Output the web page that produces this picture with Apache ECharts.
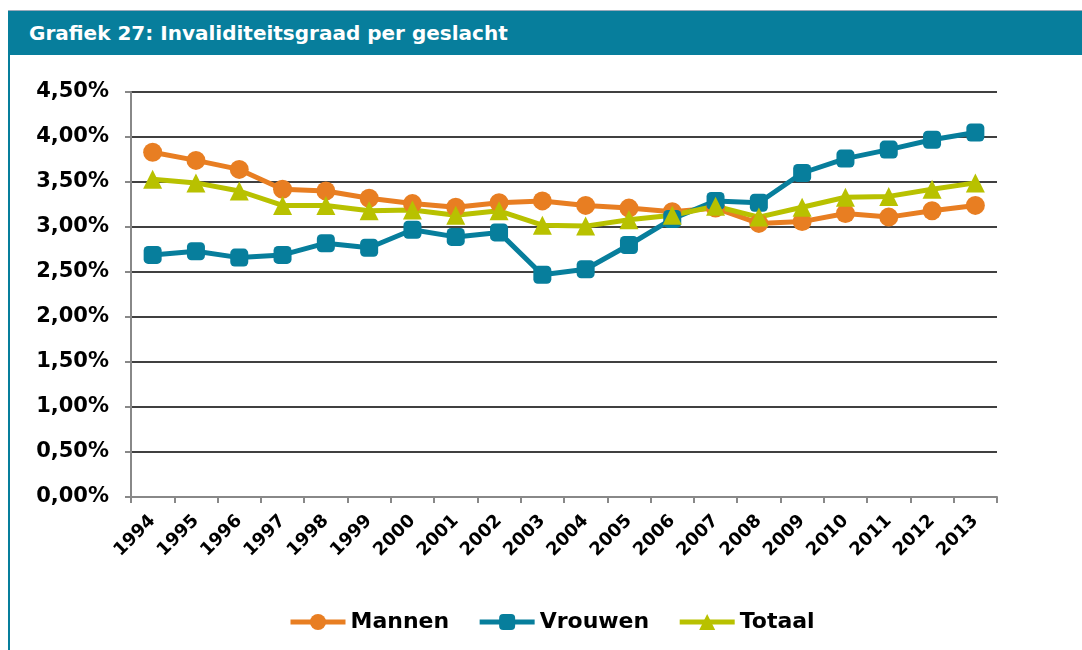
<!DOCTYPE html>
<html>
<head>
<meta charset="UTF-8">
<title>Grafiek 27</title>
<style>
body { margin: 0; background: #fff; }
#wrap { position: relative; width: 1082px; height: 650px; overflow: hidden; }
#bar {
	position: absolute; left: 8px; top: 10px; width: 1074px; height: 45px;
	background: #077e9c; border-top: 1px solid #9ab;
	color: #fff; font: bold 20px "DejaVu Sans", sans-serif;
	line-height: 44px; box-sizing: border-box; padding-left: 21px;
}
#edge { position: absolute; left: 8px; top: 10px; width: 2px; height: 640px; background: #077e9c; }
#main { position: absolute; left: 0; top: 0; width: 1082px; height: 650px; }
</style>
</head>
<body>
<div id="wrap">
	<div id="main"></div>
	<div id="edge"></div>
	<div id="bar">Grafiek 27: Invaliditeitsgraad per geslacht</div>
</div>
<script src="https://cdn.jsdelivr.net/npm/echarts@6/dist/echarts.min.js"></script>
<script>
var years = ['1994','1995','1996','1997','1998','1999','2000','2001','2002','2003',
	'2004','2005','2006','2007','2008','2009','2010','2011','2012','2013'];
// waarden in procenten
var mannen = [3.83,3.74,3.64,3.42,3.40,3.32,3.26,3.22,3.27,3.29,
	3.24,3.21,3.17,3.21,3.04,3.06,3.15,3.11,3.18,3.24];
var vrouwen = [2.69,2.73,2.66,2.69,2.82,2.77,2.97,2.89,2.94,2.47,
	2.53,2.80,3.09,3.29,3.27,3.60,3.76,3.86,3.97,4.05];
var totaal = [3.53,3.49,3.40,3.24,3.24,3.18,3.19,3.13,3.18,3.02,
	3.01,3.08,3.13,3.23,3.11,3.22,3.33,3.34,3.42,3.49];

var font = '"DejaVu Sans", sans-serif';
function pct(v) { return v.toFixed(2).replace('.', ',') + '%'; }

var myChart = echarts.init(document.getElementById('main'));
var option = {
	animation: false,
	grid: { left: 131, right: 85, top: 92, bottom: 153 },
	legend: {
		top: 606,
		left: 283,
		itemWidth: 55,
		itemHeight: 20,
		itemGap: 28,
		lineStyle: { width: 5 },
		textStyle: { fontFamily: font, fontWeight: 'bold', fontSize: 22, color: '#000' },
		data: ['Mannen', 'Vrouwen', 'Totaal']
	},
	xAxis: {
		type: 'category',
		data: years,
		boundaryGap: true,
		axisLine: { lineStyle: { color: '#888', width: 2 } },
		axisTick: { show: true, length: 6, lineStyle: { color: '#888', width: 2 } },
		axisLabel: {
			rotate: 45, interval: 0, margin: 21,
			fontFamily: font, fontWeight: 'bold', fontSize: 18, color: '#000'
		}
	},
	yAxis: {
		type: 'value',
		min: 0, max: 4.5, interval: 0.5,
		axisLine: { show: true, lineStyle: { color: '#888', width: 2 } },
		axisTick: { show: true, length: 6, lineStyle: { color: '#888', width: 2 } },
		splitLine: { lineStyle: { color: '#000', width: 1.5 } },
		axisLabel: {
			margin: 22,
			fontFamily: font, fontWeight: 'bold', fontSize: 21, color: '#000',
			formatter: pct
		}
	},
	series: [
		{
			name: 'Mannen', type: 'line', data: mannen,
			symbol: 'circle', symbolSize: 19,
			lineStyle: { width: 5, color: '#e87e22' },
			itemStyle: { color: '#e87e22' }
		},
		{
			name: 'Vrouwen', type: 'line', data: vrouwen,
			symbol: 'roundRect', symbolSize: 18,
			lineStyle: { width: 5, color: '#077e9c' },
			itemStyle: { color: '#077e9c' }
		},
		{
			name: 'Totaal', type: 'line', data: totaal,
			symbol: 'triangle', symbolSize: 19,
			lineStyle: { width: 5, color: '#b8c100' },
			itemStyle: { color: '#b8c100' }
		}
	]
};
myChart.setOption(option);
</script>
</body>
</html>
